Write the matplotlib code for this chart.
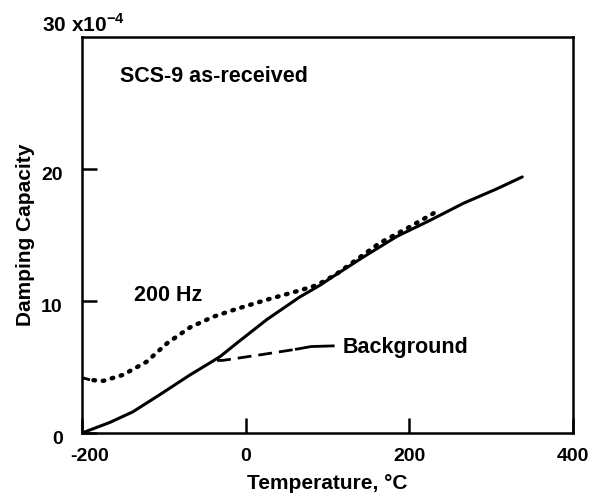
import matplotlib
matplotlib.use("Agg")
import matplotlib.pyplot as plt
from matplotlib.transforms import ScaledTranslation

plt.rcParams['font.family'] = ['Liberation Sans', 'DejaVu Sans']
plt.rcParams['mathtext.fontset'] = 'custom'
plt.rcParams['mathtext.rm'] = 'Liberation Sans:bold'
plt.rcParams['mathtext.bf'] = 'Liberation Sans:bold'

# Data (temperature in °C, damping capacity in 1e-4 units)
solid_T = [-200, -166, -138, -105, -68, -44, -31, -11, 26, 66, 91, 103, 143, 185, 225, 266, 307, 338]
solid_y = [0.0, 0.8, 1.6, 2.9, 4.4, 5.3, 5.8, 6.8, 8.6, 10.3, 11.2, 11.7, 13.3, 14.9, 16.1, 17.4, 18.5, 19.4]

dot_T = [-186, -174, -150, -121, -96, -68, -40, -11, 26, 66, 87, 110, 164, 200, 234]
dot_y = [4.0, 3.95, 4.4, 5.4, 6.8, 8.0, 8.8, 9.4, 10.1, 10.8, 11.2, 12.0, 14.4, 15.6, 16.8]
dot_start_T = [-200, -186]
dot_start_y = [4.2, 3.95]

bg_dash_T = [-35, -28, 26, 62]
bg_dash_y = [5.5, 5.5, 6.0, 6.35]
bg_solid_T = [62, 80, 107]
bg_solid_y = [6.35, 6.55, 6.6]

xticks = [-200, 0, 200, 400]
yticks = [0, 10, 20]

fig = plt.figure(figsize=(5.93, 4.95), dpi=100)
ax = fig.add_axes([82/593, 1-433/495, (573-82)/593, (433-37)/495])

ax.plot(solid_T, solid_y, color='black', lw=2.2, solid_capstyle='round', solid_joinstyle='round')
ax.plot(dot_T, dot_y, color='black', lw=3.2, linestyle=(0, (0.35, 1.75)), dash_capstyle='round')
ax.plot(dot_start_T, dot_start_y, color='black', lw=2.0, linestyle=(0, (3, 1.5)))
ax.plot(bg_dash_T, bg_dash_y, color='black', lw=2.0, linestyle=(0, (5, 2.5)))
ax.plot(bg_solid_T, bg_solid_y, color='black', lw=2.0)

ax.set_xlim(-200, 400)
ax.set_ylim(0, 30)
ax.set_xticks(xticks)
ax.set_yticks(yticks)
ax.set_xticklabels([str(t) if t >= 0 else '-' + str(-t) for t in xticks])
ax.set_yticklabels([str(t) for t in yticks])
ax.tick_params(direction='in', length=11, width=1.8, labelsize=14)
ax.tick_params(axis='x', pad=11)
ax.tick_params(axis='y', pad=14)
for lab in ax.get_xticklabels() + ax.get_yticklabels():
    lab.set_fontweight('bold')
for lab in ax.get_yticklabels():
    lab.set_transform(lab.get_transform() + ScaledTranslation(0, -4/100, fig.dpi_scale_trans))
xl0 = ax.get_xticklabels()[0]
xl0.set_transform(xl0.get_transform() + ScaledTranslation(8/100, 0, fig.dpi_scale_trans))
for sp in ax.spines.values():
    sp.set_linewidth(1.8)

ax.set_xlabel('Temperature, °C', fontsize=15, fontweight='bold', labelpad=6)
ax.set_ylabel('Damping Capacity', fontsize=15, fontweight='bold', labelpad=4)

ax.text(-153, 27.0, 'SCS-9 as-received', fontsize=15.5, fontweight='bold', va='center', ha='left')
ax.text(-95, 10.4, '200 Hz', fontsize=15.5, fontweight='bold', va='center', ha='center')
ax.text(119, 6.5, 'Background', fontsize=15.5, fontweight='bold', va='center', ha='left')
fig.text(42/593, 1-24/495, r'30 x10$^{\mathbf{-4}}$', fontsize=15, fontweight='bold', va='center', ha='left')

fig.savefig('out.png', dpi=100)
